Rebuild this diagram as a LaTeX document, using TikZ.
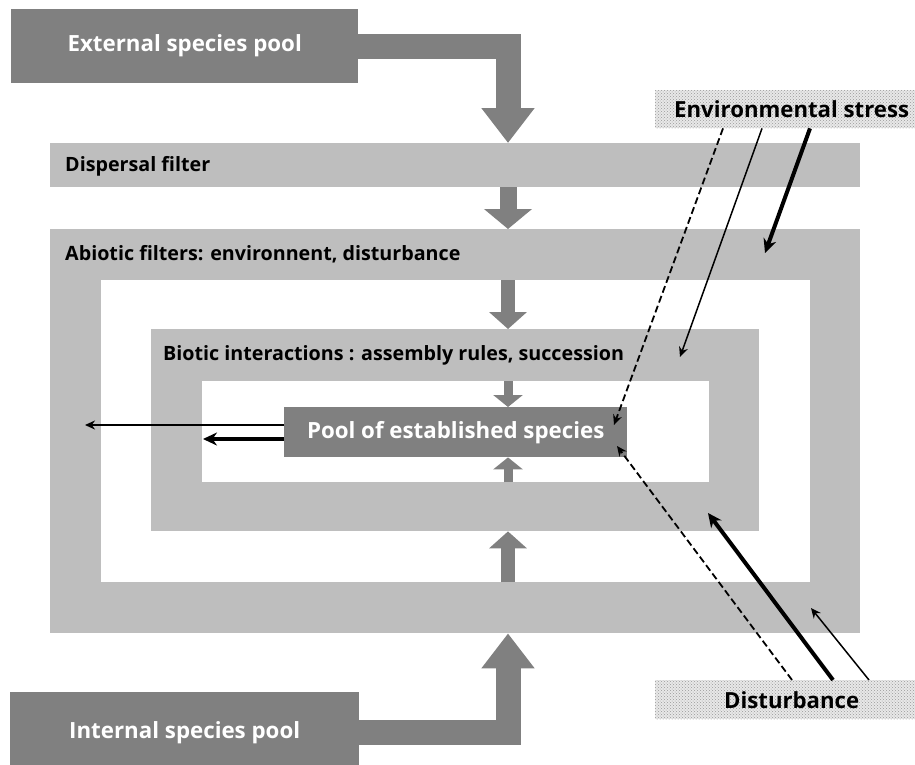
\documentclass[tikz,border=0pt]{standalone}
\usepackage{fontspec}
\setmainfont{Open Sans}
\usetikzlibrary{arrows.meta,patterns}

\definecolor{poolgray}{gray}{0.5}
\definecolor{filtergray}{gray}{0.745}

\tikzset{
  poolbox/.style={fill=poolgray, text=white, inner sep=0pt, anchor=north west,
    font=\bfseries\fontsize{22.3}{26}\selectfont},
  filterband/.style={fill=filtergray, inner sep=0pt, anchor=north west},
  holebox/.style={fill=white, inner sep=0pt, anchor=north west},
  filterlabel/.style={anchor=west, inner sep=0pt, font=\bfseries\fontsize{19.7}{23}\selectfont},
  factorbox/.style={preaction={fill=gray!18}, pattern=crosshatch dots, pattern color=gray!80,
    inner sep=0pt, anchor=north west, font=\bfseries\fontsize{22.2}{26}\selectfont},
  bigflow/.style={draw=poolgray, line width=25pt, -{Triangle[width=51pt,length=35pt]}},
  flowA/.style={draw=poolgray, line width=17pt, -{Triangle[width=47pt,length=20pt]}},
  flowB/.style={draw=poolgray, line width=14pt, -{Triangle[width=37pt,length=17pt]}},
  flowC/.style={draw=poolgray, line width=9pt, -{Triangle[width=29pt,length=12pt]}},
  thinarrow/.style={line width=1.5pt, -{Stealth[length=10pt,width=9pt]}},
  thickarrow/.style={line width=4pt, -{Stealth[length=14pt,width=13pt]}},
  dasharrow/.style={thinarrow, line width=1.8pt, dash pattern=on 7pt off 3.5pt}
}

\begin{document}
\begin{tikzpicture}[x=1pt, y=-1pt]
  \useasboundingbox (0,0) rectangle (915,764);

  % species pools
  \node[poolbox, minimum width=347pt, minimum height=74pt] (ext) at (11,9) {External species pool};
  \node[poolbox, minimum width=349pt, minimum height=80pt] (int) at (10,692) {Internal species pool};

  % filters
  \node[filterband, minimum width=810pt, minimum height=44pt] (disp) at (50,143) {};
  \node[filterlabel] at (65,166) {Dispersal filter};

  \node[filterband, minimum width=810pt, minimum height=404pt] (abiotic) at (50,229) {};
  \node[holebox, minimum width=709pt, minimum height=302pt] (abioticin) at (101,280) {};
  \node[filterlabel] at (65,254) {Abiotic filters: environnent, disturbance};

  \node[filterband, minimum width=608pt, minimum height=202pt] (biotic) at (151,329) {};
  \node[holebox, minimum width=507pt, minimum height=101pt] (bioticin) at (202,381) {};
  \node[filterlabel] at (163,355) {Biotic interactions : assembly rules, succession};

  \node[poolbox, minimum width=343pt, minimum height=50pt] (pool) at (284,407) {Pool of established species};

  % factors
  \node[factorbox, minimum width=273pt, minimum height=38pt] (stress) at (655,90) {Environmental stress};
  \node[factorbox, minimum width=273pt, minimum height=39pt] (dist) at (655,680) {Disturbance};

  % flows of species
  \coordinate (axis) at (508,0);
  \draw[bigflow] (ext.east) -| (disp.north -| axis);
  \draw[bigflow] (int.east) -| (abiotic.south -| axis);
  \draw[flowA] (disp.south -| axis) -- (abiotic.north -| axis);
  \draw[flowB] (abioticin.north -| axis) -- (biotic.north -| axis);
  \draw[flowB] (abioticin.south -| axis) -- (biotic.south -| axis);
  \draw[flowC] (bioticin.north -| axis) -- (pool.north -| axis);
  \draw[flowC] (bioticin.south -| axis) -- (pool.south -| axis);

  % losses
  \coordinate (lossFar) at (85,425);
  \coordinate (lossNear) at (203,439);
  \draw[thinarrow] (lossFar -| pool.west) -- (lossFar);
  \draw[thickarrow] (lossNear -| pool.west) -- (lossNear);

  % environmental stress
  \coordinate (stressPool) at (614,425);
  \coordinate (stressBiotic) at (680,357);
  \coordinate (stressAbiotic) at (765,253);
  \draw[dasharrow] ([xshift=68pt]stress.south west) -- (stressPool);
  \draw[thinarrow] ([xshift=107pt]stress.south west) -- (stressBiotic);
  \draw[thickarrow] ([xshift=155pt]stress.south west) -- (stressAbiotic);

  % disturbance
  \coordinate (distPool) at (617,446);
  \coordinate (distBiotic) at (708,513);
  \coordinate (distAbiotic) at (811,608);
  \draw[dasharrow] ([xshift=137pt]dist.north west) -- (distPool);
  \draw[thickarrow] ([xshift=178pt]dist.north west) -- (distBiotic);
  \draw[thinarrow] ([xshift=214pt]dist.north west) -- (distAbiotic);
\end{tikzpicture}
\end{document}
